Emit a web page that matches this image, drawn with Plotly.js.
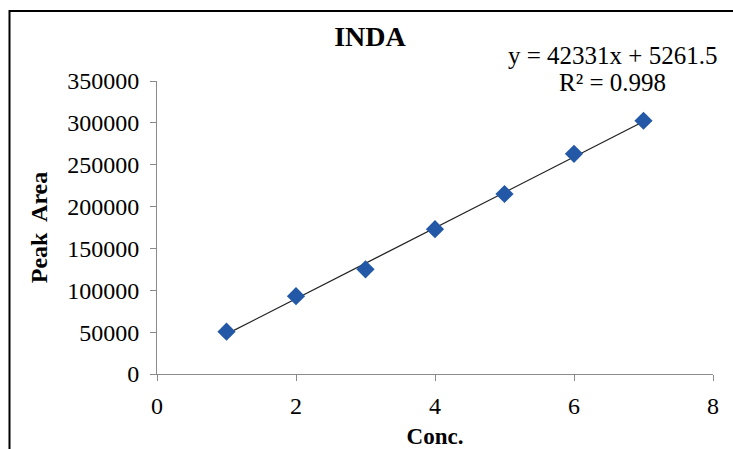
<!DOCTYPE html>
<html>
<head>
<meta charset="utf-8">
<script src="https://cdn.plot.ly/plotly-3.0.1.min.js"></script>
<style>html,body{margin:0;padding:0;background:#fff;}#chart{width:733px;height:449px;}</style>
</head>
<body>
<div id="chart"></div>
<script>
// Data
var conc = [1, 2, 3, 4, 5, 6, 7];
var peakArea = [50500, 93000, 125000, 173000, 215000, 263000, 302500];
// Trendline coefficients as printed on the chart
var slope = 42331;
var intercept = 5261.5;
var trendX = [1, 7];
var trendY = trendX.map(function (x) { return slope * x + intercept; });
var xTicks = [0, 2, 4, 6, 8];
var yTicks = [0, 50000, 100000, 150000, 200000, 250000, 300000, 350000];

var FONT = '"Liberation Serif", "Times New Roman", serif';
var W = 733, H = 449, ML = 157, MR = 20, MT = 81, MB = 75;
var pw = W - ML - MR, ph = H - MT - MB;
function px2x(p) { return (p - ML) / pw; }
function py2y(p) { return (H - MB - p) / ph; }

var data = [
  {
    x: trendX, y: trendY, mode: 'lines', type: 'scatter',
    line: { color: '#222222', width: 1.3 }, hoverinfo: 'skip', showlegend: false
  },
  {
    x: conc, y: peakArea, mode: 'markers', type: 'scatter',
    marker: { symbol: 'diamond', size: 14, color: '#2358A6', line: { width: 0 } },
    showlegend: false
  }
];

var layout = {
  width: W, height: H,
  margin: { l: ML, r: MR, t: MT, b: MB },
  paper_bgcolor: '#ffffff', plot_bgcolor: '#ffffff',
  font: { family: FONT, color: '#000000', size: 24 },
  title: {
    text: '<b>INDA</b>', font: { family: FONT, size: 28, color: '#000' },
    xref: 'container', yref: 'container', x: 370 / W, y: 1 - 36 / H,
    xanchor: 'center', yanchor: 'middle'
  },
  xaxis: {
    range: [0, 8], tickvals: xTicks, ticktext: xTicks.map(String),
    showgrid: false, zeroline: false, showline: true, linecolor: '#8a8a8a', linewidth: 1,
    ticks: 'outside', ticklen: 6, tickcolor: '#8a8a8a', tickwidth: 1, ticklabelstandoff: 4,
    tickfont: { family: FONT, size: 24, color: '#000' },
    title: { text: '<b>Conc.</b>', font: { family: FONT, size: 23, color: '#000' }, standoff: 12 },
    fixedrange: true
  },
  yaxis: {
    range: [0, 350000], tickvals: yTicks, ticktext: yTicks.map(String),
    showgrid: false, zeroline: false, showline: true, linecolor: '#8a8a8a', linewidth: 1,
    ticks: 'outside', ticklen: 6, tickcolor: '#8a8a8a', tickwidth: 1, ticklabelstandoff: 6,
    tickfont: { family: FONT, size: 24, color: '#000' },
    title: { text: '<b>Peak  Area</b>', font: { family: FONT, size: 24, color: '#000' }, standoff: 12 },
    fixedrange: true
  },
  annotations: [
    {
      xref: 'paper', yref: 'paper', x: px2x(612), y: py2y(55),
      text: 'y = 42331x + 5261.5', showarrow: false,
      font: { family: FONT, size: 25, color: '#000' }, xanchor: 'center', yanchor: 'middle'
    },
    {
      xref: 'paper', yref: 'paper', x: px2x(612), y: py2y(82),
      text: 'R² = 0.998', showarrow: false,
      font: { family: FONT, size: 25, color: '#000' }, xanchor: 'center', yanchor: 'middle'
    }
  ],
  shapes: [
    {
      type: 'rect', xref: 'paper', yref: 'paper',
      x0: px2x(9.5), x1: px2x(745), y0: py2y(460), y1: py2y(11),
      line: { color: '#000', width: 2 }, fillcolor: 'rgba(0,0,0,0)', layer: 'above'
    }
  ],
  showlegend: false
};

Plotly.newPlot('chart', data, layout, { displayModeBar: false, staticPlot: true });
</script>
</body>
</html>
